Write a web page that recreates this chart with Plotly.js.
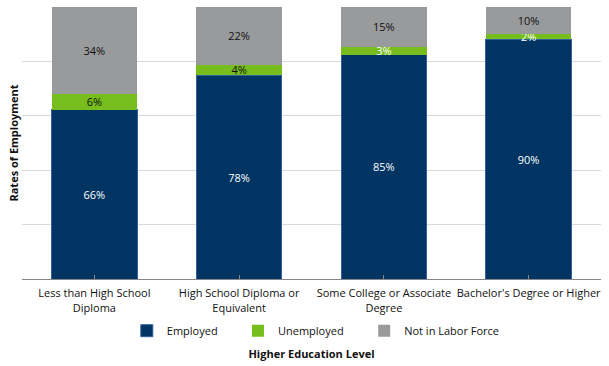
<!DOCTYPE html>
<html>
<head>
<meta charset="utf-8">
<script src="https://cdn.plot.ly/plotly-3.0.1.min.js"></script>
<style>html,body{margin:0;padding:0;background:#fff;}#chart{width:609px;height:366px;}</style>
</head>
<body>
<div id="chart"></div>
<script>
var categories = ["Less than High School<br>Diploma", "High School Diploma or<br>Equivalent", "Some College or Associate<br>Degree", "Bachelor's Degree or Higher"];
var employed = [66, 78, 85, 90];
var unemployed = [6, 4, 3, 2];
var notInLaborForce = [34, 22, 15, 10];
var seriesNames = ["Employed", "Unemployed", "Not in Labor Force"];

var FONT = "'Open Sans', Lato, sans-serif";
function pct(a){ return a.map(function(v){ return v + "%"; }); }

var traces = [
  {type:"bar", name:seriesNames[0], x:categories, y:employed, text:pct(employed), legend:"legend",
   textposition:"inside", insidetextanchor:"middle", textangle:0,
   textfont:{color:"#ffffff", size:11, family:FONT},
   marker:{color:"#003462", line:{color:"#2f5f9e", width:1}}},
  {type:"bar", name:seriesNames[1], x:categories, y:unemployed, text:pct(unemployed), legend:"legend2",
   textposition:"inside", insidetextanchor:"middle", textangle:0,
   textfont:{color:["#111111","#111111","#ffffff","#ffffff"], size:11, family:FONT},
   marker:{color:"#76bd1d", line:{width:0}}},
  {type:"bar", name:seriesNames[2], x:categories, y:notInLaborForce, text:pct(notInLaborForce), legend:"legend3",
   textposition:"inside", insidetextanchor:"middle", textangle:0,
   textfont:{color:"#111111", size:11, family:FONT},
   marker:{color:"#999a9c", line:{width:0}}}
];

function leg(x){
  return {orientation:"h", x:x, xanchor:"left", y:-0.19, yanchor:"middle",
          font:{size:11, family:FONT}, bgcolor:"rgba(0,0,0,0)"};
}

var layout = {
  width:609, height:366,
  margin:{l:22, r:8, t:7, b:87},
  barmode:"stack", barnorm:"percent", bargap:0.41,
  paper_bgcolor:"#ffffff", plot_bgcolor:"#ffffff",
  font:{family:FONT, size:11, color:"#111111"},
  showlegend:true,
  uniformtext:{mode:"show", minsize:11},
  legend:leg(0.181), legend2:leg(0.373), legend3:leg(0.591),
  xaxis:{type:"category", showline:true, linecolor:"#868686", linewidth:1,
         ticks:"inside", ticklen:4, tickcolor:"#868686", tickangle:0, automargin:false,
         ticklabelstandoff:4,
         tickfont:{size:11, family:FONT},
         title:{text:"Higher Education Level", font:{size:11, family:FONT, weight:"bold"}, standoff:36}},
  yaxis:{range:[0,100], dtick:20, showticklabels:false, showgrid:true, gridcolor:"#d9d9d9", gridwidth:1,
         zeroline:false, ticks:"", automargin:false,
         title:{text:"Rates of Employment", font:{size:11, family:FONT, weight:"bold"}, standoff:0}}
};

Plotly.newPlot("chart", traces, layout, {displayModeBar:false, staticPlot:true});
</script>
</body>
</html>
